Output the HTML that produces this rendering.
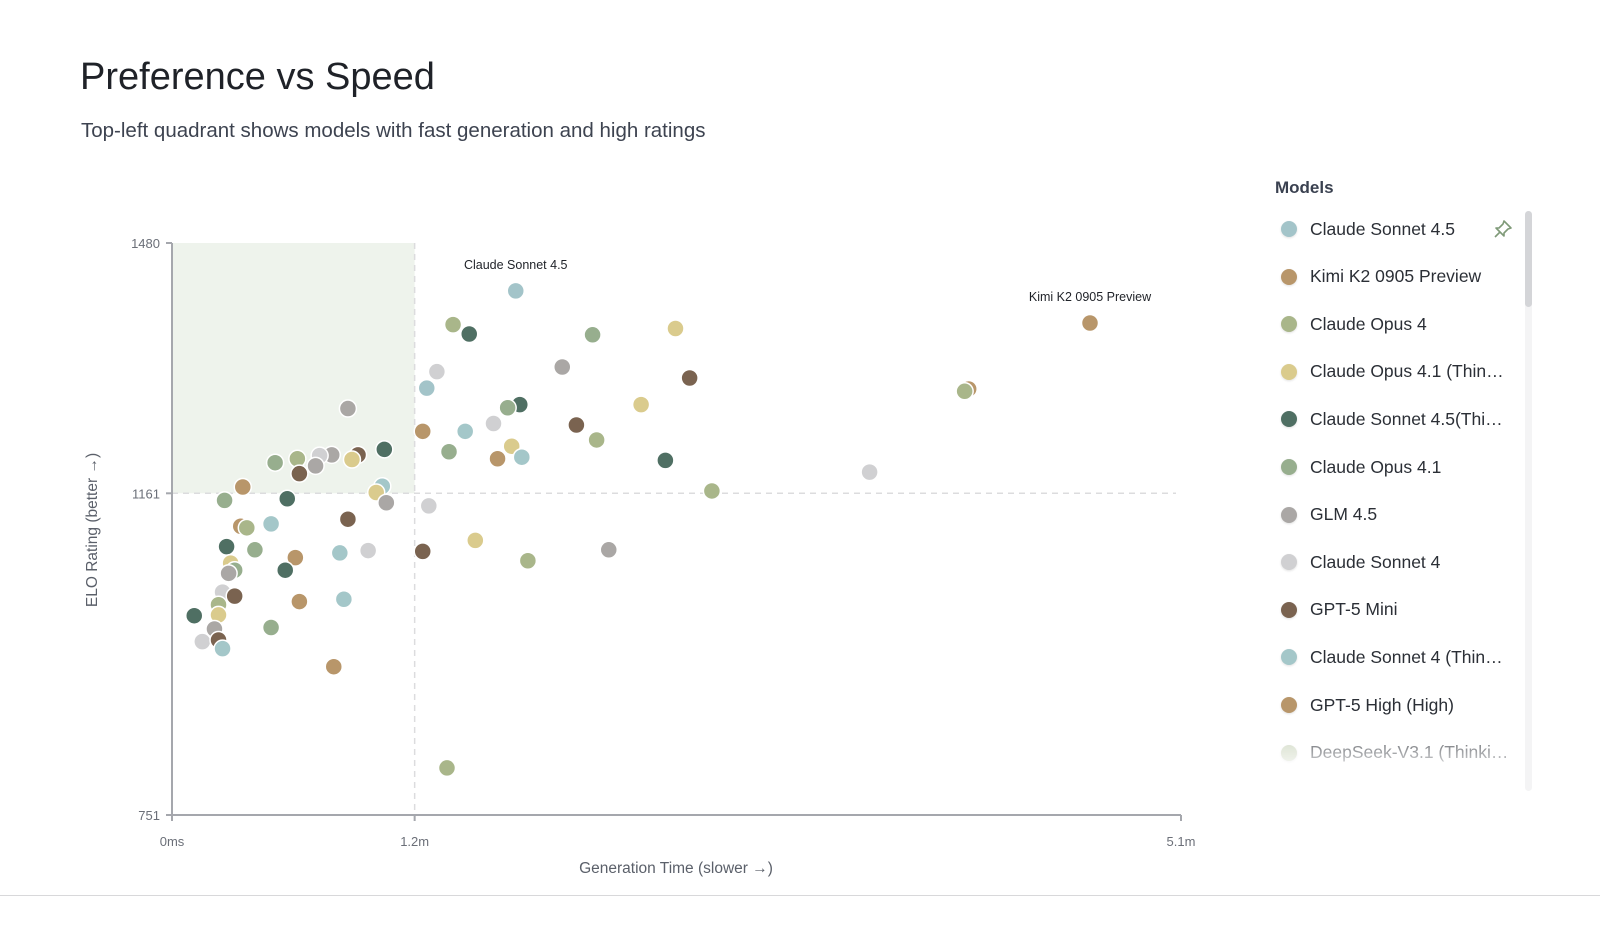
<!DOCTYPE html>
<html><head><meta charset="utf-8"><style>
html,body{margin:0;padding:0;background:#fff;width:1600px;height:932px;overflow:hidden;font-family:"Liberation Sans",sans-serif}
#title{position:absolute;left:80px;top:56px;font-size:38px;color:#1f2228;margin:0;font-weight:400}
#sub{position:absolute;left:81px;top:119px;font-size:20.5px;color:#3d4350;margin:0}
#legend{position:absolute;left:1262px;top:178px;width:280px;height:614px;overflow:hidden}
#legend h3{margin:0 0 0 13px;font-size:17px;color:#3a4150;font-weight:700}
.item{position:absolute;left:0;height:40px;display:flex;align-items:center;font-size:17.5px;color:#2b2f36;white-space:nowrap}
.dot{width:16px;height:16px;border-radius:50%;margin-left:19px;margin-right:13px;box-shadow:0 1px 2px rgba(0,0,0,.12)}
#scroll{position:absolute;left:1525px;top:211px;width:7px;height:580px;background:#f4f4f5;border-radius:4px}
#thumb{position:absolute;left:1525px;top:211px;width:7px;height:96px;background:#d4d5d8;border-radius:4px}
#fade{position:absolute;left:1262px;top:735px;width:260px;height:60px;background:linear-gradient(rgba(255,255,255,0.25),#fff 70%)}
#hr{position:absolute;left:0;top:895px;width:1600px;height:1px;background:#d8d8da}
</style></head><body>
<h1 id="title">Preference vs Speed</h1>
<p id="sub">Top-left quadrant shows models with fast generation and high ratings</p>
<svg id="chart" width="1600" height="932" style="position:absolute;left:0;top:0" xmlns="http://www.w3.org/2000/svg"></svg>
<div id="legend"><h3>Models</h3></div>
<div id="scroll"></div>
<div id="thumb"></div>
<svg style="position:absolute;left:1493px;top:219px" width="20" height="20" viewBox="0 0 20 20"><path d="M11 2 L18 9 L15 10 L11 14 L11 17 L3 9 L6 9 L10 5 Z M7 13 L2 18" fill="none" stroke="#7f9a78" stroke-width="1.6" stroke-linejoin="round"/></svg>
<div id="fade"></div>
<div id="hr"></div>
<script>
const C={sb:"#a3c4c9",tan:"#b8966a",ol:"#a9b68a",ye:"#dacb8d",dg:"#4f6f63",sg:"#97ae8e",gr:"#aaa7a5",lg:"#d0d0d2",br:"#7a6350",lb:"#a4c7c9",dk:"#c7d2b8"};
const xTicks=[0,1.2,4.99];
const xTickLabels=["0ms","1.2m","5.1m"];
const yTicks=[751,1161,1480];
const yTickLabels=["751","1161","1480"];
const times=[1.70,4.54,1.39,1.47,2.08,2.49,1.31,1.93,1.26,2.56,3.94,3.92,0.87,1.72,1.66,2.32,1.59,2.00,1.24,1.45,2.10,1.68,1.37,1.05,0.92,0.89,0.79,0.73,0.71,0.62,0.51,0.63,1.61,1.73,2.44,3.45,0.35,0.26,0.57,1.04,1.01,1.06,1.27,2.67,0.87,0.49,0.34,0.37,1.50,0.27,0.41,1.24,0.97,0.83,0.61,2.16,1.76,0.29,0.31,0.28,0.56,0.25,0.31,0.63,0.85,0.23,0.23,0.11,0.21,0.49,0.15,0.23,0.25,0.80,1.36];
const elos=[1419,1378,1376,1364,1363,1371,1316,1322,1295,1308,1294,1291,1269,1274,1270,1274,1250,1248,1240,1240,1229,1221,1214,1217,1210,1204,1210,1209,1196,1205,1200,1186,1205,1207,1203,1188,1169,1152,1154,1170,1162,1149,1145,1164,1128,1122,1119,1117,1101,1093,1089,1087,1088,1085,1079,1089,1075,1072,1063,1059,1063,1035,1030,1023,1026,1019,1006,1005,988,990,972,974,963,940,811];
const colors=["sb","tan","ol","dg","sg","ye","lg","gr","sb","br","tan","ol","gr","dg","sg","ye","lg","br","tan","lb","ol","ye","sg","dg","br","ye","gr","lg","gr","ol","sg","br","tan","lb","dg","lg","tan","sg","dg","lb","ye","gr","lg","ol","br","lb","tan","ol","ye","dg","sg","br","lg","lb","tan","gr","ol","ye","sg","gr","dg","lg","br","tan","lb","ol","ye","dg","gr","sg","lg","br","lb","tan","ol"];
const labels=[[0,"Claude Sonnet 4.5"],[1,"Kimi K2 0905 Preview"]];
const legendNames=["Claude Sonnet 4.5","Kimi K2 0905 Preview","Claude Opus 4","Claude Opus 4.1 (Thin…","Claude Sonnet 4.5(Thi…","Claude Opus 4.1","GLM 4.5","Claude Sonnet 4","GPT-5 Mini","Claude Sonnet 4 (Thin…","GPT-5 High (High)","DeepSeek-V3.1 (Thinki…","DeepSeek-Chat"];
const legendColors=["sb","tan","ol","ye","dg","sg","gr","lg","br","lb","tan","dk","lg"];

const X0=172,X1=1181,Y0=815,Y1=243,XMAX=4.99,YMIN=751,YMAX=1480;
const xs=v=>X0+(v/XMAX)*(X1-X0);
const ys=v=>Y0-(v-YMIN)/(YMAX-YMIN)*(Y0-Y1);
const svg=document.getElementById('chart');
const NS="http://www.w3.org/2000/svg";
function mk(tag,attrs){const e=document.createElementNS(NS,tag);for(const k in attrs)e.setAttribute(k,attrs[k]);svg.appendChild(e);return e;}
let e;
e=mk('rect',{x:xs(0),y:ys(YMAX),width:xs(1.2)-xs(0),height:ys(1161)-ys(YMAX),fill:"#eef3ec"});


e=mk('line',{x1:xs(1.2),x2:xs(1.2),y1:ys(YMAX),y2:Y0,stroke:"#dcdcde","stroke-width":1.5,"stroke-dasharray":"6 5"});


e=mk('line',{x1:X0,x2:1176,y1:ys(1161),y2:ys(1161),stroke:"#dcdcde","stroke-width":1.5,"stroke-dasharray":"6 5"});


e=mk('line',{x1:X0,x2:X0,y1:Y1,y2:Y0,stroke:"#a5a7ad","stroke-width":2});


e=mk('line',{x1:X0,x2:X1,y1:Y0,y2:Y0,stroke:"#a5a7ad","stroke-width":2});


xTicks.forEach((t,i)=>{
 const l=mk('line',{x1:xs(t),x2:xs(t),y1:Y0,y2:Y0+6,stroke:"#a5a7ad","stroke-width":2});
 
 
 const tx=mk('text',{x:xs(t),y:Y0+31,"text-anchor":"middle","font-size":13,fill:"#6b6f78"});
 tx.textContent=xTickLabels[i];
 
 
});
yTicks.forEach((t,i)=>{
 const l=mk('line',{x1:X0-6,x2:X0,y1:ys(t),y2:ys(t),stroke:"#a5a7ad","stroke-width":2});
 
 
 const tx=mk('text',{x:X0-12,y:ys(t)+5,"text-anchor":"end","font-size":13,fill:"#6b6f78"});
 tx.textContent=yTickLabels[i];
 
 
});
e=mk('text',{x:676,y:873,"text-anchor":"middle","font-size":15.5,fill:"#5b606a"});
e.textContent="Generation Time (slower →)";


e=mk('text',{x:0,y:0,"text-anchor":"middle","font-size":15.5,fill:"#5b606a",transform:"translate(97,530) rotate(-90)"});
e.textContent="ELO Rating (better →)";


times.forEach((t,i)=>{
 const c=mk('circle',{cx:xs(t),cy:ys(elos[i]),r:8.5,fill:C[colors[i]],stroke:"#fff","stroke-width":1.5});
 
 
});
labels.forEach(([i,txt])=>{
 const tx=mk('text',{x:xs(times[i]),y:ys(elos[i])-22,"text-anchor":"middle","font-size":12.5,fill:"#1f2228"});
 tx.textContent=txt;
 
 
});
const lg=document.getElementById('legend');
legendNames.forEach((n,i)=>{
 const d=document.createElement('div');d.className='item';d.style.top=(31+i*47.6)+'px';
 
 
 const dot=document.createElement('span');dot.className='dot';dot.style.background=C[legendColors[i]];
 
 
 const s=document.createElement('span');s.textContent=n;
 
 
 d.appendChild(dot);d.appendChild(s);lg.appendChild(d);
});
</script>
</body></html>
